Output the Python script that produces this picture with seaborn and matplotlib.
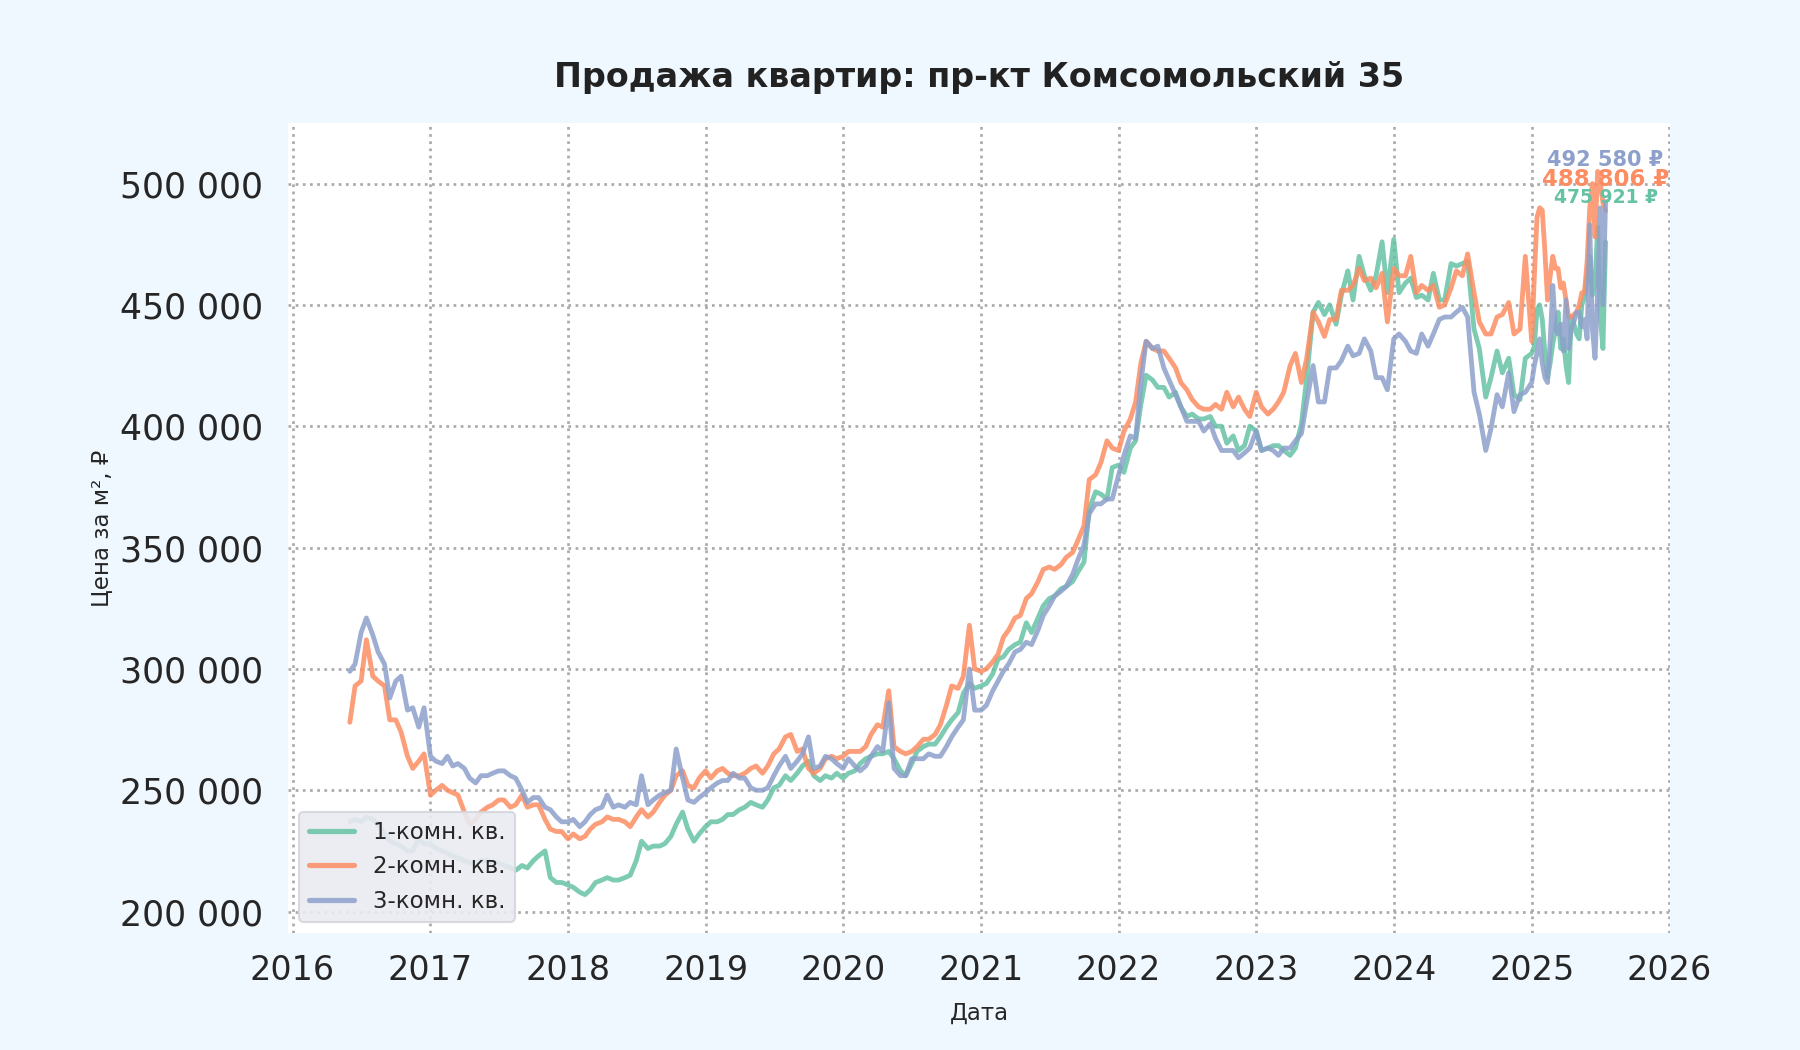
import numpy as np
import pandas as pd
import matplotlib
matplotlib.use("Agg")
from matplotlib import pyplot as plt
import matplotlib.dates as mdates
from matplotlib.ticker import FuncFormatter
import seaborn as sns

# цены за м2, тыс. руб.; 2016-06 .. 2024-12 раз в полмесяца, 2025 - еженедельно
room1 = [
    237, 238, 237, 239, 238, 236, 232, 229, 228, 227, 225, 225, 230, 228,
    228, 226, 225, 224, 223, 222, 221, 220, 220, 221, 221, 220, 220, 219, 218, 217, 219, 218, 221, 223, 225, 214, 212, 212,
    211, 210, 208, 207, 209, 212, 213, 214, 213, 213, 214, 215, 221, 229, 226, 227, 227, 228, 231, 236, 241, 234, 229, 232,
    235, 237, 237, 238, 240, 240, 242, 243, 245, 244, 243, 246, 251, 252, 256, 254, 257, 260, 262, 256, 254, 256, 255, 257,
    255, 257, 258, 261, 263, 264, 265, 265, 266, 263, 258, 256, 261, 266, 268, 269, 269, 272, 276, 279, 282, 290, 294, 292,
    293, 294, 298, 304, 305, 308, 310, 311, 319, 315, 321, 326, 329, 330, 333, 334, 336, 340, 344, 366, 373, 372, 370, 383,
    384, 381, 391, 394, 409, 421, 419, 416, 416, 412, 414, 408, 404, 405, 403, 403, 404, 400, 400, 393, 396, 390, 392, 400,
    398, 390, 391, 392, 392, 390, 388, 391, 401, 420, 447, 451, 446, 450, 442, 454, 464, 452, 470, 462, 456, 462, 476, 455,
    477, 455, 459, 461, 453, 454, 452, 463, 452, 452, 467, 466, 467, 468, 440, 432, 412, 420, 431, 422, 428, 413, 411, 428,
    430, 433, 448, 450, 444, 430, 420, 426, 434, 440, 447, 432, 436, 425, 418, 445, 442, 438, 436, 450, 453, 462, 470, 454,
    459, 482, 445, 432, 475.921,
]
room2 = [
    278, 293, 295, 312, 297, 295, 293, 279, 279, 274, 264, 259, 262, 265,
    248, 250, 252, 250, 249, 248, 241, 236, 238, 241, 243, 244, 246, 246, 243, 244, 248, 243, 244, 244, 238, 234, 233, 233,
    230, 232, 230, 231, 234, 236, 237, 239, 238, 238, 237, 235, 239, 242, 239, 241, 245, 248, 250, 256, 258, 252, 251, 255,
    258, 255, 258, 259, 257, 256, 256, 257, 259, 260, 257, 260, 265, 267, 272, 273, 266, 267, 259, 257, 259, 263, 264, 263,
    264, 266, 266, 266, 268, 273, 277, 276, 291, 268, 266, 265, 266, 268, 271, 271, 273, 277, 285, 293, 292, 297, 318, 300,
    299, 300, 303, 306, 313, 316, 321, 322, 329, 331, 336, 341, 342, 341, 343, 346, 348, 353, 359, 378, 380, 385, 394, 391,
    390, 398, 403, 410, 426, 435, 432, 431, 431, 428, 424, 418, 415, 411, 408, 407, 407, 409, 407, 414, 408, 412, 407, 404,
    414, 408, 405, 407, 410, 414, 425, 430, 418, 428, 447, 443, 437, 444, 444, 456, 456, 458, 465, 460, 461, 457, 463, 443,
    465, 462, 462, 470, 455, 458, 456, 458, 449, 450, 457, 464, 462, 471, 455, 443, 438, 438, 445, 446, 451, 438, 440, 470,
    435, 462, 486, 490, 489, 472, 452, 462, 470, 465, 465, 457, 459, 452, 445, 445, 446, 447, 450, 455, 455, 468, 490, 500,
    478, 505, 500, 492, 488.806,
]
room3 = [
    299, 302, 315, 321, 314, 307, 302, 288, 295, 297, 283, 284, 276, 284,
    264, 262, 261, 264, 260, 261, 259, 255, 253, 256, 256, 257, 258, 258, 256, 255, 250, 245, 247, 247, 243, 242, 239, 237,
    237, 238, 235, 237, 240, 242, 243, 248, 243, 244, 243, 245, 244, 256, 244, 246, 248, 249, 250, 267, 255, 246, 245, 247,
    249, 251, 253, 254, 254, 257, 255, 255, 251, 250, 250, 251, 256, 260, 264, 259, 262, 265, 272, 259, 260, 264, 263, 261,
    259, 263, 260, 258, 260, 264, 268, 266, 286, 259, 256, 256, 263, 263, 263, 265, 264, 264, 268, 272, 276, 279, 300, 283,
    283, 285, 291, 295, 299, 302, 307, 308, 311, 310, 316, 322, 326, 330, 332, 334, 339, 345, 351, 364, 368, 368, 370, 370,
    380, 388, 396, 395, 418, 435, 432, 433, 424, 419, 413, 408, 402, 402, 402, 398, 401, 395, 390, 390, 390, 387, 389, 391,
    398, 390, 391, 390, 388, 391, 391, 394, 397, 410, 425, 410, 410, 424, 424, 427, 433, 429, 430, 436, 431, 420, 420, 415,
    436, 438, 435, 431, 430, 438, 433, 438, 444, 445, 445, 447, 449, 445, 414, 405, 390, 399, 413, 408, 422, 406, 413, 414,
    418, 425, 430, 436, 426, 420, 418, 435, 458, 440, 438, 442, 431, 452, 432, 440, 443, 447, 447, 441, 444, 436, 483, 440,
    428, 456, 490, 450, 492.58,
]
labels = ['1-комн. кв.', '2-комн. кв.', '3-комн. кв.']
colors = ['#66c2a5', '#fc8d62', '#8da0cb']

dates = pd.date_range('2016-06-01', '2024-12-15', freq='SMS').append(
    pd.date_range('2025-01-01', '2025-07-16', freq='7D'))

df = pd.DataFrame({'date': dates,
                   labels[0]: np.array(room1) * 1000,
                   labels[1]: np.array(room2) * 1000,
                   labels[2]: np.array(room3) * 1000})

sns.set_theme(style='whitegrid')
plt.rcParams['font.family'] = ['DejaVu Sans']

fig, ax = plt.subplots(figsize=(12, 7), dpi=150)
fig.patch.set_facecolor('#f0f8ff')
ax.set_facecolor('white')
fig.subplots_adjust(left=0.16, right=0.928, top=0.883, bottom=0.111)

for lab, col in zip(labels, colors):
    sns.lineplot(data=df, x='date', y=lab, ax=ax, color=col, label=lab,
                 linewidth=2.3, alpha=0.85)

# подписи последних значений
offsets = [21.5, 15, 20]
sizes = [9, 11, 10]
for lab, col, dy, fs in zip(labels, colors, offsets, sizes):
    last_x = df['date'].iloc[-1]
    last_y = df[lab].iloc[-1]
    txt = f"{round(last_y):,}".replace(',', ' ') + ' ₽'
    ax.annotate(txt, (last_x, last_y), xytext=(0, dy), textcoords='offset points',
                ha='center', va='center', color=col, fontsize=fs, fontweight='bold')

ax.set_xlim(pd.Timestamp('2015-12-20'), pd.Timestamp('2026-01-04'))
ax.set_ylim(191000, 525000)
ax.xaxis.set_major_locator(mdates.YearLocator())
ax.xaxis.set_major_formatter(mdates.DateFormatter('%Y'))
ax.yaxis.set_major_formatter(FuncFormatter(lambda v, p: f"{v:,.0f}".replace(',', ' ')))

ax.grid(True, linestyle=':', color='#aaaaaa', linewidth=1.3)
for s in ax.spines.values():
    s.set_visible(False)
ax.tick_params(axis='both', length=0, colors='#262626')
ax.tick_params(axis='x', labelsize=16, pad=10)
ax.tick_params(axis='y', labelsize=16.7, pad=12)

ax.set_title('Продажа квартир: пр-кт Комсомольский 35', fontsize=16,
             fontweight='bold', pad=17, color='#222222')
ax.set_xlabel('Дата', fontsize=11, labelpad=7)
ax.set_ylabel('Цена за м², ₽', fontsize=11, labelpad=3)

leg = ax.legend(loc='lower left', fontsize=11, frameon=True)
leg.get_frame().set_facecolor('#eaeaf2')
leg.get_frame().set_edgecolor('#d5d5dd')
leg.get_frame().set_alpha(0.9)
for h in leg.get_lines():
    h.set_linewidth(2.5)

plt.savefig('out.png', dpi=150, facecolor=fig.get_facecolor())
